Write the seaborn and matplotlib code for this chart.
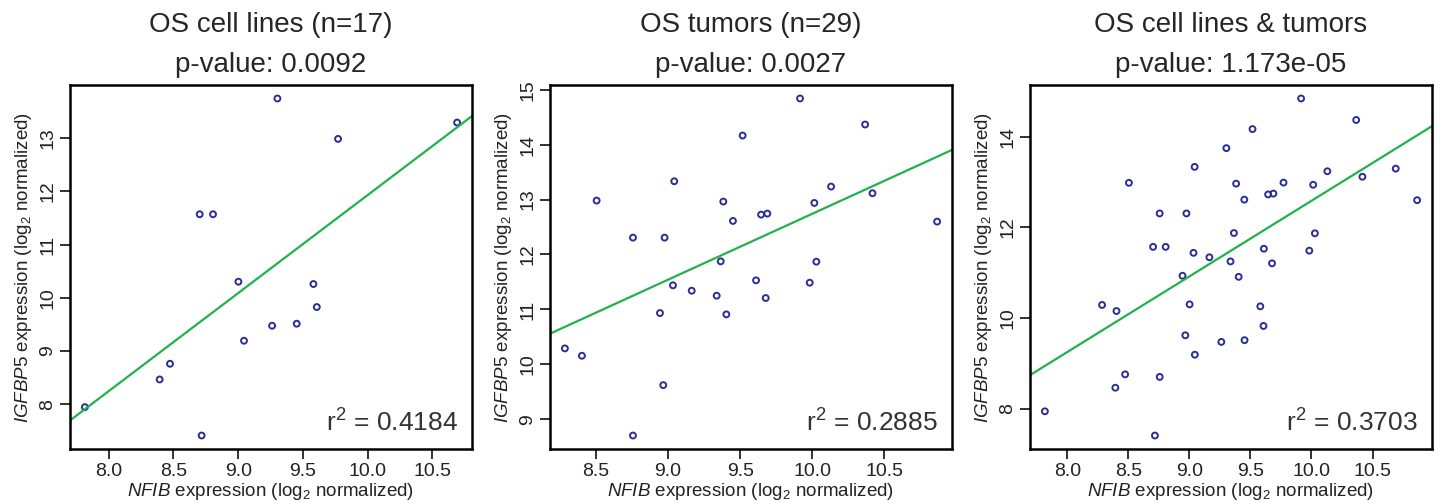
import matplotlib
matplotlib.use('Agg')
import matplotlib.pyplot as plt
import seaborn as sns
import numpy as np
import pandas as pd

sns.set_style("white")
plt.rcParams['font.family'] = ['Liberation Sans', 'DejaVu Sans']
plt.rcParams['mathtext.fontset'] = 'custom'
plt.rcParams['mathtext.rm'] = 'Liberation Sans'
plt.rcParams['mathtext.it'] = 'Liberation Sans:italic'

# osteosarcoma cell lines (two points overlap, 15 visible)
cell_nfib = [7.817, 8.394, 8.474, 8.703, 8.806, 8.718, 9.002, 9.045, 9.262,
             9.303, 9.452, 9.581, 9.607, 9.771, 10.690]
cell_igfbp5 = [7.944, 8.464, 8.759, 11.570, 11.570, 7.410, 10.302, 9.192, 9.474,
               13.747, 9.512, 10.258, 9.826, 12.987, 13.295]

# osteosarcoma tumors
tum_nfib = [8.285, 8.403, 8.505, 8.757, 8.757, 8.944, 8.967, 8.976, 9.034, 9.043,
            9.164, 9.337, 9.365, 9.383, 9.404, 9.450, 9.517, 9.610, 9.645, 9.677,
            9.688, 9.915, 9.982, 10.014, 10.028, 10.130, 10.366, 10.417, 10.865]
tum_igfbp5 = [10.289, 10.155, 12.982, 12.307, 8.702, 10.933, 9.620, 12.307, 11.438, 13.334,
              11.340, 11.249, 11.875, 12.964, 10.909, 12.611, 14.167, 11.529, 12.726, 11.207,
              12.745, 14.842, 11.486, 12.939, 11.869, 13.237, 14.368, 13.116, 12.599]

titles = ['OS cell lines (n=17)', 'OS tumors (n=29)', 'OS cell lines & tumors']
pvalues = ['0.0092', '0.0027', '1.173e-05']
r2_values = ['0.4184', '0.2885', '0.3703']
xticks = [8.0, 8.5, 9.0, 9.5, 10.0, 10.5]
yticks = [[8, 9, 10, 11, 12, 13], [9, 10, 11, 12, 13, 14, 15], [8, 10, 12, 14]]

df_cell = pd.DataFrame({'NFIB': cell_nfib, 'IGFBP5': cell_igfbp5})
df_tum = pd.DataFrame({'NFIB': tum_nfib, 'IGFBP5': tum_igfbp5})
df_all = pd.concat([df_cell, df_tum], ignore_index=True)
datasets = [df_cell, df_tum, df_all]

fig = plt.figure(figsize=(14.43, 5.04), dpi=100)
lefts = [70, 550, 1030]

for i, df in enumerate(datasets):
    ax = fig.add_axes([lefts[i] / 1443, 55 / 504, 402 / 1443, 364 / 504])
    # R-style 4% padding around data range
    xr = df['NFIB'].max() - df['NFIB'].min()
    yr = df['IGFBP5'].max() - df['IGFBP5'].min()
    xlim = (df['NFIB'].min() - 0.04 * xr, df['NFIB'].max() + 0.04 * xr)
    ylim = (df['IGFBP5'].min() - 0.04 * yr, df['IGFBP5'].max() + 0.04 * yr)

    ax.set_xticks(xticks)
    ax.set_xticklabels([f'{t:.1f}' for t in xticks])
    ax.set_yticks(yticks[i])
    ax.set_yticklabels([str(t) for t in yticks[i]], rotation=90, va='center')
    ax.set_xlim(xlim)
    ax.set_ylim(ylim)

    sns.regplot(data=df, x='NFIB', y='IGFBP5', ax=ax, ci=None, truncate=False,
                scatter_kws=dict(s=18, facecolors='none', edgecolors='#2b2f93',
                                 linewidths=1.4, alpha=1),
                line_kws=dict(color='#22b14c', linewidth=1.6))
    ax.set_xlim(xlim)
    ax.set_ylim(ylim)

    ax.tick_params(axis='both', direction='out', length=7, width=1.3, labelsize=14,
                   colors='#222222', left=True, bottom=True, pad=3)
    for s in ax.spines.values():
        s.set_linewidth(1.8)
        s.set_color('black')

    ax.set_xlabel(r'$\it{NFIB}$ expression (log$_2$ normalized)', fontsize=13.5, labelpad=1, color='#222222')
    ax.set_ylabel(r'$\it{IGFBP5}$ expression (log$_2$ normalized)', fontsize=13.5, labelpad=4, color='#222222')

    ax.text(0.5, 1.0 + 53 / 364, titles[i], transform=ax.transAxes, ha='center', va='baseline',
            fontsize=20)
    ax.text(0.5, 1.0 + 13 / 364, 'p-value: ' + pvalues[i], transform=ax.transAxes, ha='center',
            va='baseline', fontsize=20)
    ax.text(0.965, 0.035, r'r$^2$ = ' + r2_values[i], transform=ax.transAxes, ha='right',
            va='bottom', fontsize=19, color='#333333')

plt.savefig('out.png', dpi=100)
plt.close()
